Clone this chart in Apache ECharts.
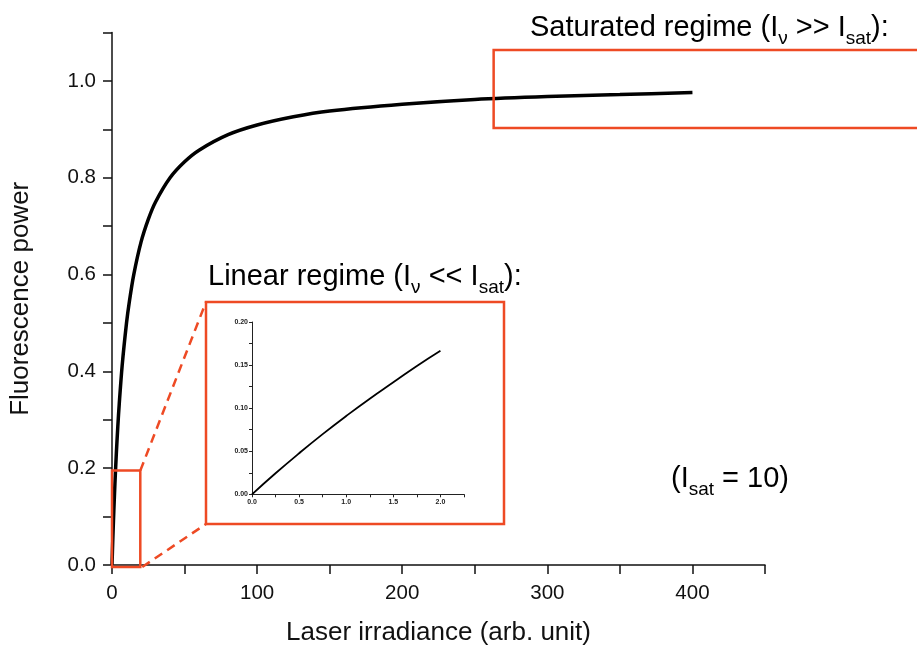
<!DOCTYPE html>
<html><head><meta charset="utf-8">
<script src="https://cdn.jsdelivr.net/npm/echarts@6/dist/echarts.min.js"></script>
<style>html,body{margin:0;padding:0;background:#fff}#c{width:917px;height:646px}</style>
</head><body><div id="c"></div>
<script>
// Main curve: fluorescence vs laser irradiance
const mainX = [0,0.5,1,1.5,2,3,4,5,7,10,12,15,20,25,30,40,50,60,80,100,125,150,200,250,300,350,400];
const mainY = [0,0.048,0.091,0.130,0.167,0.231,0.286,0.333,0.412,0.500,0.545,0.600,0.667,0.714,0.750,0.800,0.833,0.857,0.889,0.909,0.926,0.938,0.952,0.962,0.968,0.972,0.976];
// Inset (linear regime)
const insetX = [0,0.25,0.5,0.75,1,1.25,1.5,1.75,2];
const insetY = [0,0.0244,0.0476,0.0698,0.0909,0.111,0.130,0.149,0.1667];
// Zoom boxes (data coords: [xmin, xmax], [ymin, ymax])
const smallBoxX = [0,19.5];
const smallBoxY = [-0.004,0.195];
const bigBoxX = [263,560];
const bigBoxY = [0.903,1.064];

const RED = '#EE4A24';
const FONT = 'Liberation Sans, Arial, sans-serif';
const zip = (a,b)=>a.map((v,i)=>[v,b[i]]);

const chart = echarts.init(document.getElementById('c'));
const axisCommon = {
  axisLine:{lineStyle:{color:'#111',width:1.5}},
  axisTick:{show:true,inside:false,length:9,lineStyle:{color:'#111',width:1.5}},
  splitLine:{show:false}
};
chart.setOption({
  animation:false,
  backgroundColor:'#fff',
  grid:[
    {left:112,right:152,top:32.6,bottom:81,outerBoundsMode:'none',containLabel:false},
    {left:252,top:322,width:212,height:172.3,outerBoundsMode:'none',containLabel:false}
  ],
  xAxis:[
    Object.assign({type:'value',gridIndex:0,min:0,max:450,interval:50,
      name:'Laser irradiance (arb. unit)',nameLocation:'middle',nameGap:55,
      nameTextStyle:{fontFamily:FONT,fontSize:26,color:'#111'},
      axisLabel:{fontFamily:FONT,fontSize:20.5,color:'#111',margin:18,
        formatter:v=>(Math.round(v)%100===0?String(Math.round(v)):'')}},axisCommon),
    {type:'value',gridIndex:1,min:0,max:2.25,interval:0.25,
      axisLine:{lineStyle:{color:'#222',width:1}},
      axisTick:{length:3,lineStyle:{color:'#222',width:1}},
      splitLine:{show:false},
      axisLabel:{fontFamily:FONT,fontSize:7,fontWeight:'bold',color:'#222',margin:4,
        formatter:v=>(Math.round(v*100)%50===0?v.toFixed(1):'')}}
  ],
  yAxis:[
    Object.assign({type:'value',gridIndex:0,min:0,max:1.1,interval:0.1,
      name:'Fluorescence power',nameLocation:'middle',nameGap:78,nameRotate:90,
      nameTextStyle:{fontFamily:FONT,fontSize:26,color:'#111'},
      axisLabel:{fontFamily:FONT,fontSize:20.5,color:'#111',margin:16,
        formatter:v=>{const k=Math.round(v*10);return (k%2===0&&k<=10)?v.toFixed(1):'';}}},axisCommon),
    {type:'value',gridIndex:1,min:0,max:0.2,interval:0.025,
      axisLine:{lineStyle:{color:'#222',width:1}},
      axisTick:{length:3,lineStyle:{color:'#222',width:1}},
      splitLine:{show:false},
      axisLabel:{fontFamily:FONT,fontSize:7,fontWeight:'bold',color:'#222',margin:4,
        formatter:v=>(Math.round(v*1000)%50===0?v.toFixed(2):'')}}
  ],
  series:[
    {type:'line',xAxisIndex:0,yAxisIndex:0,data:zip(mainX,mainY),smooth:0.3,showSymbol:false,
      lineStyle:{color:'#000',width:3.5},z:3},
    {type:'line',xAxisIndex:1,yAxisIndex:1,data:zip(insetX,insetY),smooth:true,showSymbol:false,
      lineStyle:{color:'#000',width:1.8},z:3}
  ]
});

const px = (x,y)=>chart.convertToPixel({xAxisIndex:0,yAxisIndex:0},[x,y]);
const sb0 = px(smallBoxX[0],smallBoxY[1]), sb1 = px(smallBoxX[1],smallBoxY[0]);
const bb0 = px(bigBoxX[0],bigBoxY[1]), bb1 = px(bigBoxX[1],bigBoxY[0]);
const frame = {x1:206,y1:302,x2:504,y2:524};
const main = {fontFamily:FONT,fontSize:29,color:'#111',verticalAlign:'bottom',padding:[0,0,6,0]};
const sub = {fontFamily:FONT,fontSize:19,color:'#111',verticalAlign:'bottom',padding:[0,0,0,0]};
chart.setOption({graphic:[
  {type:'rect',shape:{x:sb0[0],y:sb0[1],width:sb1[0]-sb0[0],height:sb1[1]-sb0[1]},
    style:{fill:'none',stroke:RED,lineWidth:2.5},z:5},
  {type:'rect',shape:{x:bb0[0],y:bb0[1],width:bb1[0]-bb0[0],height:bb1[1]-bb0[1]},
    style:{fill:'none',stroke:RED,lineWidth:2.5},z:5},
  {type:'rect',shape:{x:frame.x1,y:frame.y1,width:frame.x2-frame.x1,height:frame.y2-frame.y1},
    style:{fill:'none',stroke:RED,lineWidth:2.5},z:5},
  {type:'line',shape:{x1:sb1[0],y1:sb0[1],x2:frame.x1,y2:frame.y1},
    style:{stroke:RED,lineWidth:2.5,lineDash:[9,6]},z:5},
  {type:'line',shape:{x1:sb1[0]+2,y1:sb1[1],x2:frame.x1,y2:frame.y2},
    style:{stroke:RED,lineWidth:2.5,lineDash:[9,6]},z:5},
  {type:'text',left:530,top:13,z:6,style:{
    text:'{m|Saturated regime (I}{s|ν}{m| >> I}{s|sat}{m|):}',
    rich:{m:main,s:sub}}},
  {type:'text',left:208,top:262,z:6,style:{
    text:'{m|Linear regime (I}{s|ν}{m| << I}{s|sat}{m|):}',
    rich:{m:main,s:sub}}},
  {type:'text',left:671,top:464,z:6,style:{
    text:'{m|(I}{s|sat}{m| = 10)}',
    rich:{m:main,s:sub}}}
]});
</script></body></html>
